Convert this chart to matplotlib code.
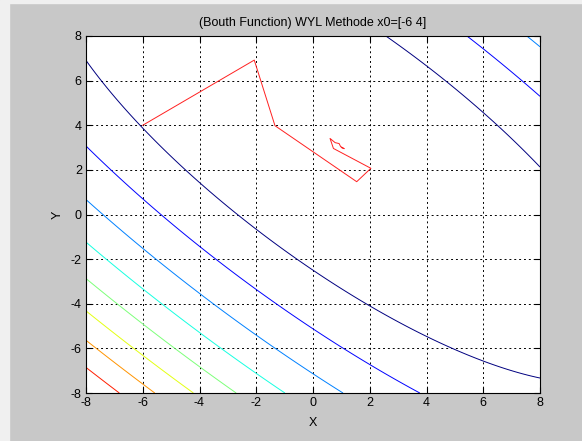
import matplotlib
matplotlib.use("Agg")
import matplotlib.pyplot as plt
import numpy as np

# contour levels of the Booth function
levels = [200, 400, 600, 800, 1000, 1200, 1400, 1600, 1800]

# search path, starting at x0=[-6 4]
path_x = [-6.0, -2.07, -1.34, 1.54, 2.04, 0.72, 0.60, 0.78, 0.92, 0.97, 1.10, 1.02, 1.0]
path_y = [4.0, 6.92, 3.98, 1.47, 2.07, 2.96, 3.41, 3.22, 3.18, 3.05, 2.95, 2.99, 3.0]

ticks = [-8, -6, -4, -2, 0, 2, 4, 6, 8]


def booth(x, y):
    return (x + 2 * y - 7) ** 2 + (2 * x + y - 5) ** 2


plt.rcParams['font.family'] = ['Liberation Sans', 'DejaVu Sans']
plt.rcParams['axes.unicode_minus'] = False

fig = plt.figure(figsize=(5.82, 4.41), dpi=100, facecolor='#c8c8c8')
# light border of the screenshot on the left and top
fig.patches.append(plt.Rectangle((0, 0), 9 / 582, 1, transform=fig.transFigure,
                                 color='#f0f0f0', zorder=-1))
fig.patches.append(plt.Rectangle((0, 1 - 3 / 441), 1, 3 / 441, transform=fig.transFigure,
                                 color='#f0f0f0', zorder=-1))

ax = fig.add_axes([86 / 582, 48 / 441, 454 / 582, 357 / 441])
ax.set_facecolor('white')

gx, gy = np.meshgrid(np.linspace(-8, 8, 300), np.linspace(-8, 8, 300))
ax.contour(gx, gy, booth(gx, gy), levels=levels, cmap='jet', linewidths=0.7)

ax.plot(path_x, path_y, color='#ff2020', lw=0.7)

ax.set_xlim(-8, 8)
ax.set_ylim(-8, 8)
ax.set_xticks(ticks)
ax.set_yticks(ticks)
ax.grid(True, color='black', linestyle=(0, (2, 3)), linewidth=0.7)
ax.tick_params(direction='in', top=True, right=True, length=4, labelsize=9, pad=3)
for s in ax.spines.values():
    s.set_linewidth(0.8)

ax.set_title('(Bouth Function) WYL Methode x0=[-6 4]', fontsize=9, pad=7)
ax.set_xlabel('X', fontsize=9, labelpad=6)
ax.set_ylabel('Y', fontsize=9, labelpad=5)

fig.savefig('out.png', dpi=100, facecolor=fig.get_facecolor())
